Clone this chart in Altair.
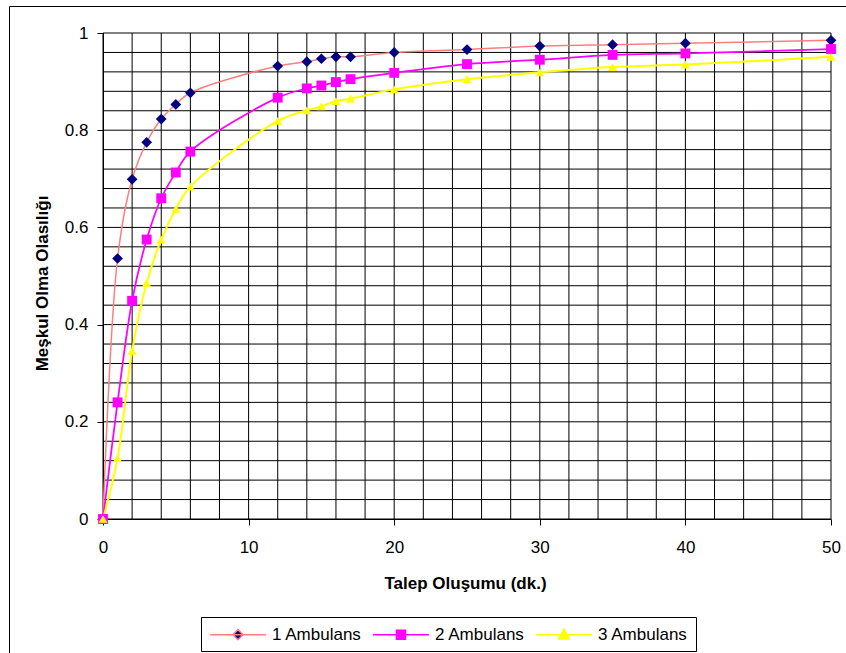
import altair as alt
import pandas as pd

# ---- data ----
x_vals = [0, 1, 2, 3, 4, 5, 6, 12, 14, 15, 16, 17, 20, 25, 30, 35, 40, 50]
s1 = [0, 0.536, 0.699, 0.775, 0.823, 0.853, 0.877, 0.932, 0.941, 0.947, 0.951, 0.951,
      0.960, 0.966, 0.973, 0.976, 0.979, 0.985]
s2 = [0, 0.240, 0.449, 0.575, 0.660, 0.713, 0.756, 0.867, 0.886, 0.892, 0.899, 0.905,
      0.918, 0.936, 0.945, 0.955, 0.958, 0.967]
s3 = [0, 0.125, 0.346, 0.486, 0.575, 0.638, 0.684, 0.819, 0.841, 0.849, 0.860, 0.865,
      0.884, 0.905, 0.919, 0.930, 0.935, 0.951]
series_names = ["1 Ambulans", "2 Ambulans", "3 Ambulans"]
x_title = "Talep Oluşumu (dk.)"
y_title = "Meşkul Olma Olasılığı"
x_ticks = [0, 10, 20, 30, 40, 50]
y_ticks = [0, 0.2, 0.4, 0.6, 0.8, 1]
x_grid = list(range(0, 51, 2))
y_grid = [round(i * 0.04, 2) for i in range(26)]

line_colors = ["#FF7F7F", "#FF00FF", "#FFFF00"]
marker_colors = ["#000080", "#FF00FF", "#FFFF00"]
marker_shapes = ["diamond", "square", "triangle-up"]
# legend symbols: line segment + marker (unit = half of sqrt(symbolSize))
legend_shapes = [
    "M-1,0H5.59M2.29,-0.6L2.89,0L2.29,0.6L1.69,0Z",
    "M-1,0H5.59M1.76,-0.53H2.82V0.53H1.76Z",
    "M-1,0H5.59M2.29,-0.66L2.94,0.5L1.64,0.5Z",
]

rows = []
for name, ys in zip(series_names, [s1, s2, s3]):
    for x, y in zip(x_vals, ys):
        rows.append({"t": x, "p": y, "seri": name})
df = pd.DataFrame(rows)

FONT = "Arial, Liberation Sans, sans-serif"

x_scale = alt.Scale(domain=[0, 50], nice=False, zero=False)
y_scale = alt.Scale(domain=[0, 1], nice=False)

x_axis = alt.Axis(
    values=x_ticks, title=x_title, grid=False, domainColor="black", domainWidth=1,
    tickColor="black", tickSize=6, format="d",
    labelFont=FONT, labelFontSize=17, labelColor="black", labelPadding=14,
    labelFlush=False, labelOverlap=False,
    titleFont=FONT, titleFontSize=17, titleFontWeight="bold", titleColor="black",
    titleBaseline="alphabetic", titleY=69, titleX=362,
)
y_axis = alt.Axis(
    values=y_ticks, title=y_title, grid=False, domainColor="black", domainWidth=1,
    tickColor="black", tickSize=6, format="~g",
    labelFont=FONT, labelFontSize=17, labelColor="black", labelPadding=9,
    labelFlush=False, labelOverlap=False,
    titleFont=FONT, titleFontSize=17, titleFontWeight="bold", titleColor="black",
    titleBaseline="alphabetic", titleX=-56, titleY=250, titleAngle=-90,
)

legend = alt.Legend(
    title=None, orient="none", legendX=98, legendY=584, direction="horizontal",
    strokeColor="black", fillColor="white", padding=8, symbolSize=289,
    labelFont=FONT, labelFontSize=17, labelColor="black", labelOffset=44,
    columnPadding=8, symbolStrokeWidth=1.5, symbolOpacity=1,
)

X = alt.X("t:Q", scale=x_scale, axis=x_axis)
Y = alt.Y("p:Q", scale=y_scale, axis=y_axis)

vgrid = alt.Chart(pd.DataFrame({"t": x_grid})).mark_rule(color="black", strokeWidth=1).encode(x=X)
hgrid = alt.Chart(pd.DataFrame({"p": y_grid})).mark_rule(color="black", strokeWidth=1).encode(y=Y)

base = alt.Chart(df)

lines = base.mark_line(interpolate="catmull-rom").encode(
    x=X, y=Y,
    stroke=alt.Stroke("seri:N", scale=alt.Scale(domain=series_names, range=line_colors), legend=None),
    strokeWidth=alt.StrokeWidth("seri:N", scale=alt.Scale(domain=series_names, range=[1.5, 2, 2]), legend=None),
    detail="seri:N",
)

points = base.mark_point(filled=True, opacity=1).encode(
    x=X, y=Y,
    fill=alt.Fill("seri:N", scale=alt.Scale(domain=series_names, range=marker_colors), legend=None),
    shape=alt.Shape("seri:N", scale=alt.Scale(domain=series_names, range=marker_shapes), legend=None),
    size=alt.Size("seri:N", scale=alt.Scale(domain=series_names, range=[115, 80, 130]), legend=None),
)

# empty layer that only carries the legend (line + marker symbols)
legend_layer = base.transform_filter("datum.t < 0").mark_point(
    filled=True, opacity=1, strokeWidth=1.5
).encode(
    x=X, y=Y,
    fill=alt.Fill("seri:N", scale=alt.Scale(domain=series_names, range=marker_colors), legend=legend),
    stroke=alt.Stroke("seri:N", scale=alt.Scale(domain=series_names, range=line_colors), legend=legend),
    shape=alt.Shape("seri:N", scale=alt.Scale(domain=series_names, range=legend_shapes), legend=legend),
)

border = alt.Chart(alt.Data(values=[{"k": 1}])).mark_rect(
    filled=False, stroke="black", strokeWidth=1
).encode(
    x=alt.value(-93.5), x2=alt.value(760), y=alt.value(-26.5), y2=alt.value(640)
)

chart = alt.layer(border, vgrid, hgrid, lines, points, legend_layer).resolve_scale(
    fill="independent", shape="independent", size="independent",
    stroke="independent", strokeWidth="independent"
).properties(
    width=728, height=486,
    autosize=alt.AutoSizeParams(type="none"),
    padding={"left": 103, "top": 33, "right": 15, "bottom": 134},
    background="white",
).configure_view(stroke=None)

chart.save("out.html", embed_options={"renderer": "svg", "actions": False})
